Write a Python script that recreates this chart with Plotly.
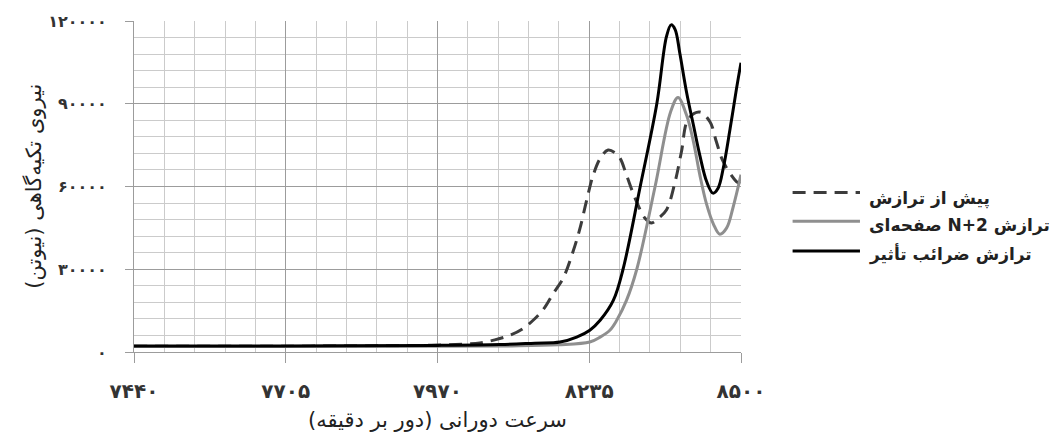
import plotly.graph_objects as go

# ---------------- data ----------------
x_ticks = [7440, 7705, 7970, 8235, 8500]
x_ticktext = ["۷۴۴۰", "۷۷۰۵", "۷۹۷۰", "۸۲۳۵", "۸۵۰۰"]
y_ticks = [0, 30000, 60000, 90000, 120000]
y_ticktext = ["۰", "۳۰۰۰۰", "۶۰۰۰۰", "۹۰۰۰۰", "۱۲۰۰۰۰"]

series_names = ["پیش از ترازش", "ترازش N+2 صفحه‌ای", "ترازش ضرائب تأثیر"]

before_x = [7440, 7700, 7900, 7970, 8020, 8044, 8070, 8097, 8120, 8137, 8155, 8172, 8190,
            8207, 8219, 8230, 8242, 8255, 8268, 8280, 8289, 8300, 8315, 8332, 8344, 8356,
            8370, 8385, 8396, 8408, 8428, 8446, 8457, 8469, 8492, 8500]
before_y = [2100, 2100, 2300, 2500, 2900, 3300, 4400, 6100, 8600, 11500, 15500, 21200, 27000,
            36600, 45000, 54600, 64200, 70500, 73200, 72200, 70200, 64200, 55800, 48600, 46800,
            48500, 51600, 61800, 72600, 84500, 87000, 83400, 76200, 69000, 61800, 61000]

n2_x = [7440, 7800, 7970, 8100, 8180, 8236, 8254, 8271, 8283, 8300, 8318, 8350, 8377, 8390,
        8405, 8417, 8428, 8440, 8452, 8463, 8475, 8486, 8500]
n2_y = [2000, 2000, 2100, 2200, 2600, 3600, 5400, 7900, 11500, 18700, 30000, 60000, 87000,
        92300, 85800, 76200, 64300, 53500, 46300, 42700, 45000, 52300, 64300]

coef_x = [7440, 7700, 7970, 8080, 8140, 8184, 8213, 8236, 8254, 8277, 8294, 8324, 8353, 8370,
          8378, 8385, 8393, 8405, 8417, 8428, 8440, 8451, 8460, 8469, 8481, 8492, 8500]
coef_y = [2200, 2200, 2400, 2700, 3200, 3600, 5400, 7900, 11500, 18700, 30000, 60000, 90000,
          114500, 118600, 116900, 108500, 94100, 82200, 71400, 61800, 57600, 59400, 66600,
          81000, 95300, 104900]

x_title = "سرعت دورانی (دور بر دقیقه)"
y_title = "نیروی تکیه‌گاهی (نیوتن)"

# ---------------- styles ----------------
FONT = "DejaVu Sans"
RLE, PDF = "\u202b", "\u202c"
styles = [
    dict(color="#3c3c3c", width=3, dash="13px,8px"),
    dict(color="#8f8f8f", width=3, dash="solid"),
    dict(color="#000000", width=3, dash="solid"),
]

fig = go.Figure()
for name, xs, ys, st in zip(series_names, [before_x, n2_x, coef_x],
                            [before_y, n2_y, coef_y], styles):
    fig.add_trace(go.Scatter(x=xs, y=ys, mode="lines", name=name, showlegend=False,
                             line=dict(color=st["color"], width=st["width"], dash=st["dash"],
                                       shape="spline", smoothing=1.0)))

# custom legend (paper coordinates)
leg_line_y = [0.482, 0.395, 0.305]
leg_text_y = [0.464, 0.383, 0.296]
for name, st, ly, ty in zip(series_names, styles, leg_line_y, leg_text_y):
    fig.add_shape(type="line", xref="paper", yref="paper", x0=1.085, x1=1.196, y0=ly, y1=ly,
                  line=dict(color=st["color"], width=3, dash=st["dash"]))
    fig.add_annotation(xref="paper", yref="paper", x=1.207, y=ty, xanchor="left",
                       yanchor="middle", showarrow=False, text=RLE + name + PDF,
                       font=dict(family=FONT, size=17, color="#222222", weight="bold"))

fig.add_annotation(xref="paper", yref="paper", x=0.5, y=-0.204, xanchor="center",
                   yanchor="middle", showarrow=False, text=RLE + x_title + PDF,
                   font=dict(family=FONT, size=21, color="#222222"))
fig.add_annotation(xref="paper", yref="paper", x=-0.166, y=0.5, xanchor="center",
                   yanchor="middle", showarrow=False, text=RLE + y_title + PDF, textangle=-90,
                   font=dict(family=FONT, size=21, color="#222222"))

fig.update_xaxes(range=[7440, 8500], tickmode="array", tickvals=x_ticks, ticktext=x_ticktext,
                 showgrid=True, gridcolor="#9c9c9c", gridwidth=1,
                 ticks="outside", ticklen=10, tickcolor="#9c9c9c", tickwidth=1,
                 showline=True, linecolor="#9c9c9c", linewidth=1, zeroline=False,
                 ticklabelstandoff=11,
                 tickfont=dict(family=FONT, size=20, color="#333333", weight="bold"),
                 minor=dict(tickmode="linear", tick0=7440, dtick=53, showgrid=True,
                            gridcolor="#cbcbcb", gridwidth=1, ticks=""))
fig.update_yaxes(range=[0, 120000], tickmode="array", tickvals=y_ticks, ticktext=y_ticktext,
                 showgrid=True, gridcolor="#9c9c9c", gridwidth=1,
                 ticks="outside", ticklen=8, tickcolor="#9c9c9c", tickwidth=1,
                 showline=True, linecolor="#9c9c9c", linewidth=1, zeroline=False,
                 ticklabelstandoff=15,
                 tickfont=dict(family=FONT, size=16, color="#333333", weight="bold"),
                 minor=dict(tickmode="linear", tick0=0, dtick=6000, showgrid=True,
                            gridcolor="#cbcbcb", gridwidth=1, ticks=""))

fig.update_layout(width=1052, height=432, margin=dict(l=134, r=311, t=18, b=80),
                  plot_bgcolor="white", paper_bgcolor="white", showlegend=False,
                  font=dict(family=FONT))

fig.write_html("out.html")
